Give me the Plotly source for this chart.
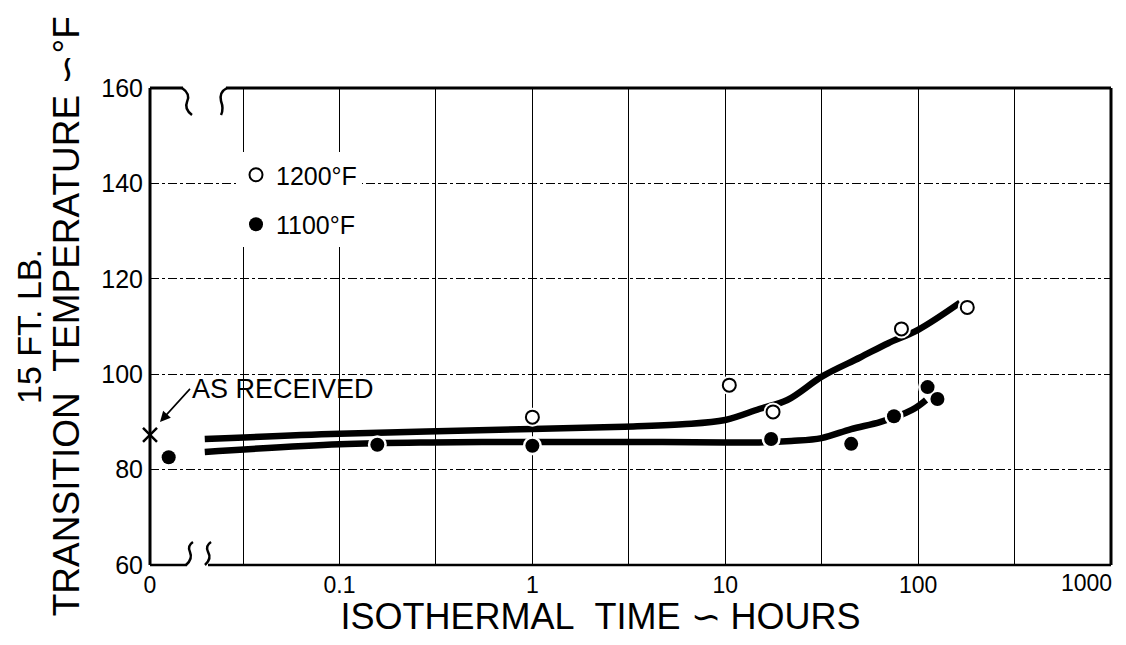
import numpy as np
import plotly.graph_objects as go

# ---------------- data ----------------
# position on the (broken) log time axis that stands for t = 0
X_ZERO = 0.0104

# 1200 °F (open circles)
t_1200 = [1.0, 10.5, 17.7, 82, 180]
T_1200 = [91.0, 97.7, 92.1, 109.5, 114.0]

# 1100 °F (filled circles)
t_1100 = [0.013, 0.157, 1.0, 17.3, 45, 75, 112, 126]
T_1100 = [82.6, 85.2, 85.0, 86.4, 85.4, 91.2, 97.3, 94.8]

# hand-drawn trend curves
c1200_t = [0.02, 0.1, 1, 3, 6, 10, 15, 21, 32, 50, 70, 100, 165]
c1200_T = [86.4, 87.5, 88.5, 89.0, 89.5, 90.4, 92.7, 94.6, 99.6, 103.5, 106.5, 109.3, 115.0]

c1100_t = [0.02, 0.1, 0.3, 1, 3, 10, 15, 22, 31.6, 45, 64, 93, 110]
c1100_T = [83.7, 85.3, 85.7, 85.8, 85.8, 85.7, 85.7, 86.0, 86.6, 88.5, 90.0, 92.5, 94.6]

# as received specimen
asrec_t = [X_ZERO]
asrec_T = [87.3]

# axis ticks (the last label, 1000, sits at the frame edge and is drawn right-aligned)
x_tickvals = [X_ZERO, 0.0316, 0.1, 0.316, 1, 3.16, 10, 31.6, 100, 316, 1000]
x_ticktext = ["0", "", "0.1", "", "1", "", "10", "", "100", "", ""]
x_last_label = "1000"
x_last_value = 1000
y_tickvals = [60, 80, 100, 120, 140, 160]

FONT = "Liberation Sans"
NB = "\u00a0"
ZW = "\u200b"

fig = go.Figure()

# curves
fig.add_trace(go.Scatter(x=c1100_t, y=c1100_T, mode="lines", showlegend=False,
                         line=dict(color="black", width=6.5, shape="spline"), hoverinfo="skip"))
fig.add_trace(go.Scatter(x=c1200_t, y=c1200_T, mode="lines", showlegend=False,
                         line=dict(color="black", width=6.5, shape="spline"), hoverinfo="skip"))
# white halos (gaps of the curve around the points)
fig.add_trace(go.Scatter(x=t_1100, y=T_1100, mode="markers", showlegend=False,
                         marker=dict(color="white", size=19), hoverinfo="skip"))
fig.add_trace(go.Scatter(x=t_1200, y=T_1200, mode="markers", showlegend=False,
                         marker=dict(color="white", size=19), hoverinfo="skip"))
# points
fig.add_trace(go.Scatter(x=t_1200, y=T_1200, mode="markers", name="1200°F",
                         legendgroup="a",
                         marker=dict(symbol="circle", color="white", size=13,
                                     line=dict(color="black", width=2))))
fig.add_trace(go.Scatter(x=t_1100, y=T_1100, mode="markers", name="1100°F",
                         legendgroup="b",
                         marker=dict(symbol="circle", color="black", size=14)))
fig.add_trace(go.Scatter(x=asrec_t, y=asrec_T, mode="markers", showlegend=False,
                         cliponaxis=False,
                         marker=dict(symbol="x-thin", size=14,
                                     line=dict(color="black", width=2.5))))

# ------------- frame with axis breaks (page pixel -> paper helpers) -------------
PAGE_OFF = 8                       # default body margin of the html page
L, R, TOP, BOT = 150, 1111, 88, 565
W, H = 1108, 629


def px(x):
    return (x - L) / (R - L)


def py(y):
    return (BOT - y) / (BOT - TOP)


def seg(x0, y0, x1, y1, w=2.5):
    return dict(type="line", xref="paper", yref="paper", x0=px(x0), y0=py(y0),
                x1=px(x1), y1=py(y1), line=dict(color="black", width=w), layer="above")


def curve(pts, w=2.5):
    d = "M {:.4f},{:.4f}".format(px(pts[0][0]), py(pts[0][1]))
    for i in range(1, len(pts) - 1, 2):
        d += " Q {:.4f},{:.4f} {:.4f},{:.4f}".format(px(pts[i][0]), py(pts[i][1]),
                                                    px(pts[i + 1][0]), py(pts[i + 1][1]))
    return dict(type="path", xref="paper", yref="paper", path=d,
                line=dict(color="black", width=w), layer="above")


shapes = [
    seg(L, TOP, L, BOT, 3),          # left
    seg(R, TOP, R, BOT, 3),          # right
    seg(L, TOP, 183, TOP, 3),        # top, left piece
    seg(226, TOP, R, TOP, 3),        # top, right piece
    seg(L, BOT, 187, BOT, 2.5),      # bottom, left piece
    seg(208, BOT, R, BOT, 2.5),      # bottom, right piece
    curve([(182, 88), (191, 94), (187, 102), (184, 109), (192, 115)]),
    curve([(227, 88), (219, 92), (221, 101), (224, 109), (221, 115)]),
    curve([(186, 565), (193, 559), (190, 552), (187, 546), (193, 542)]),
    curve([(205, 565), (212, 559), (208, 552), (205, 546), (211, 542)]),
]

fig.update_layout(
    width=W, height=H,
    margin=dict(l=L - PAGE_OFF, r=W - (R - PAGE_OFF), t=TOP - PAGE_OFF, b=H - (BOT - PAGE_OFF)),
    paper_bgcolor="white", plot_bgcolor="white",
    font=dict(family=FONT, color="black", size=24),
    shapes=shapes,
    showlegend=True,
    legend=dict(x=px(236), y=py(152), xanchor="left", yanchor="top",
                bgcolor="white", font=dict(size=25, family=FONT),
                tracegroupgap=14, itemsizing="trace", traceorder="grouped"),
    xaxis=dict(type="log", range=[np.log10(X_ZERO), 3.0005], automargin=False,
               tickvals=x_tickvals, ticktext=x_ticktext,
               showgrid=True, gridcolor="black", gridwidth=1, griddash="solid",
               showline=False, zeroline=False, ticks="",
               tickfont=dict(size=23), ticklabelstandoff=4,
               title=dict(text="ISOTHERMAL" + NB * 2 + "TIME \u223d HOURS" + NB * 6 + ZW,
                          font=dict(size=36), standoff=20)),
    yaxis=dict(range=[60, 160], tickvals=y_tickvals, automargin=False,
               showgrid=True, gridcolor="black", gridwidth=1, griddash="dashdot",
               showline=False, zeroline=False, ticks="",
               tickfont=dict(size=25), ticklabelstandoff=6,
               title=dict(text=ZW + NB * 2 + "TRANSITION" + NB * 2 + "TEMPERATURE \u223d\u00b0F",
                          font=dict(size=37), standoff=10)),
    annotations=[
        dict(xref="paper", yref="y", x=px(160), y=90.0,
             text="AS RECEIVED", showarrow=True, ax=30, ay=-33,
             xanchor="left", yanchor="middle",
             arrowhead=2, arrowsize=1.3, arrowwidth=1.6, arrowcolor="black",
             font=dict(size=27)),
        dict(xref="paper", yref="paper", x=px(29), y=py(327),
             text="15 FT. LB.", textangle=-90, showarrow=False,
             xanchor="center", yanchor="middle", font=dict(size=34)),
        dict(xref="x", yref="paper", x=np.log10(x_last_value), y=0,
             text=x_last_label, showarrow=False, xanchor="right", yanchor="top",
             xshift=3, yshift=-3, font=dict(size=23)),
    ],
)

fig.write_html("out.html")
